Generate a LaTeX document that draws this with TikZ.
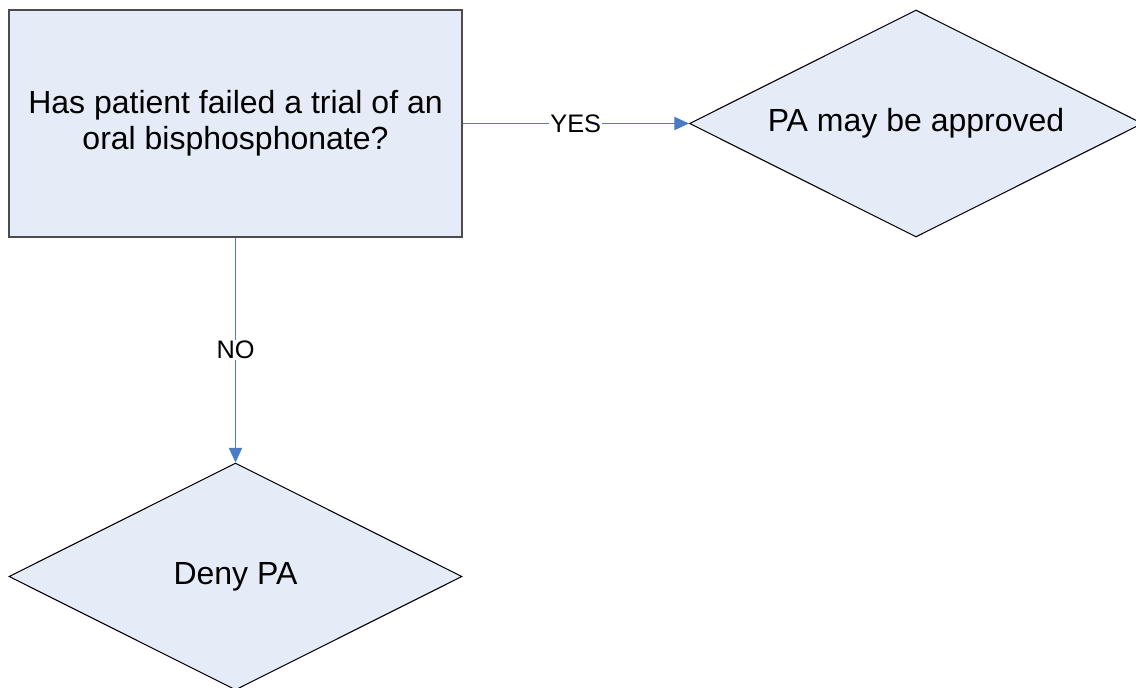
\documentclass[tikz,border=0pt]{standalone}
\usepackage{fontspec}
\setmainfont{Liberation Sans}
\usetikzlibrary{
  shapes.geometric,
  arrows.meta
}
\definecolor{boxfill}{HTML}{E6ECF7}
\definecolor{linkblue}{HTML}{4A7CC5}

\begin{document}
\begin{tikzpicture}[x=0.75pt,y=-0.75pt,
  question/.style={draw=black!70,fill=boxfill,line width=0.8pt,
    minimum width=339.75pt,minimum height=170.25pt,inner sep=0pt,
    align=center,font=\fontsize{24}{27}\selectfont},
  outcome/.style={diamond,draw=black,fill=boxfill,line width=0.8pt,
    aspect=2,minimum width=339.75pt,minimum height=170.25pt,inner sep=0pt,
    font=\fontsize{24}{27}\selectfont},
  link/.style={draw=linkblue,line width=0.75pt,
    -{Triangle[length=11pt,width=10pt]}},
  answer/.style={fill=white,inner sep=1pt,font=\fontsize{19}{21}\selectfont}
  ]
  \useasboundingbox (0,0) rectangle (1136,688);
  \node[question] (trial) at (235.5,123.5)
    {Has patient failed a trial of an\\oral bisphosphonate?};
  \node[outcome] (approve) at (916,123.5) {PA may be approved};
  \node[outcome] (deny) at (235.5,576.5) {Deny PA};
  \draw[link] (trial.east) -- node[answer] {YES} (approve.west);
  \draw[link] (trial.south) -- node[answer] {NO} (deny.north);
\end{tikzpicture}
\end{document}
